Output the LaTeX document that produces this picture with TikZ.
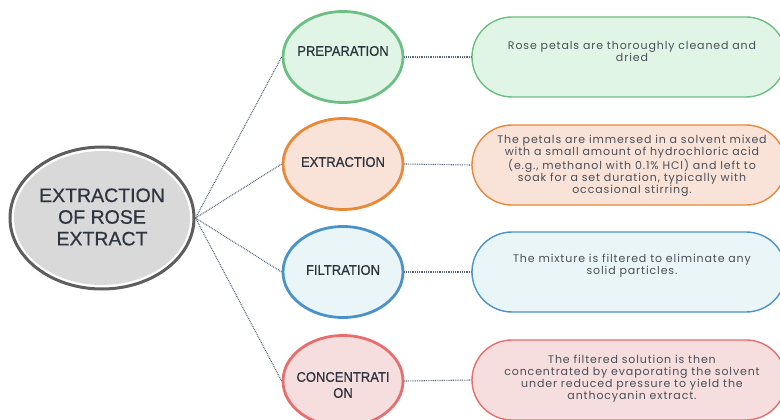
\documentclass[tikz,border=0pt]{standalone}
\usepackage{fontspec}
\setmainfont{Liberation Sans}
\newfontfamily\descfont[LetterSpace=8]{Poppins}
\newfontfamily\stepfont[FakeStretch=0.93,FakeBold=0.7]{Liberation Sans}
\newfontfamily\hubfont[FakeBold=0.6]{Liberation Sans}
\usetikzlibrary{shapes.geometric}

\definecolor{linkcol}{HTML}{56677A}
\definecolor{labelcol}{HTML}{2F3540}
\definecolor{desccol}{HTML}{4A4F58}
\definecolor{hubline}{HTML}{5E5E5E}
\definecolor{hubfill}{HTML}{D9D9D9}
\definecolor{grnline}{HTML}{6CBF82}
\definecolor{grnfill}{HTML}{E1F5E6}
\definecolor{orgline}{HTML}{E8893A}
\definecolor{orgfill}{HTML}{F9E2D7}
\definecolor{bluline}{HTML}{4A92C9}
\definecolor{blufill}{HTML}{EAF5F8}
\definecolor{redline}{HTML}{E86D6D}
\definecolor{redfill}{HTML}{F6DEDE}

\tikzset{
  stepellipse/.style={ellipse, minimum width=120pt, minimum height=91pt,
    inner sep=0pt, line width=2.8pt},
  stepbox/.style={rectangle, rounded corners=40pt, minimum width=314pt,
    minimum height=80pt, inner sep=0pt, line width=1.4pt},
  steplabel/.style={font=\stepfont\fontsize{14}{16}\selectfont,
    text=labelcol, align=center, inner sep=0pt},
  desctext/.style={font=\descfont\fontsize{11}{12}\selectfont,
    text=desccol, align=center, inner sep=0pt},
  link/.style={draw=linkcol, line width=1.1pt, dash pattern=on 0.9pt off 0.9pt}
}

\begin{document}
\begin{tikzpicture}[x=1pt, y=-1pt]
  \useasboundingbox (0,0) rectangle (780,420);

  % central hub: dark rim, thin white ring, grey fill
  \node[ellipse, minimum width=184pt, minimum height=142pt, inner sep=0pt,
        draw=hubline, line width=3pt, fill=white,
        path picture={\fill[hubfill] (path picture bounding box.center)
          ellipse [x radius=88pt, y radius=67pt];}]
        (hub) at (102,218) {};
  \node[font=\hubfont\fontsize{19.5}{21.7}\selectfont, text=labelcol,
        align=center, inner sep=0pt] (hubtext) at (102,217)
        {EXTRACTION\\OF ROSE\\EXTRACT};

  % step ellipses
  \node[stepellipse, draw=grnline, fill=grnfill] (prep) at (343,57) {};
  \node[stepellipse, draw=orgline, fill=orgfill] (extr) at (343,164) {};
  \node[stepellipse, draw=bluline, fill=blufill] (filt) at (343,272) {};
  \node[stepellipse, draw=redline, fill=redfill] (conc) at (343,381) {};

  \node[steplabel] (preptext) at (343,51) {PREPARATION};
  \node[steplabel] (extrtext) at (343,162) {EXTRACTION};
  \node[steplabel] (filttext) at (343,270) {FILTRATION};
  \node[steplabel] (conctext) at (343,385) {CONCENTRATI\\ON};

  % description boxes
  \node[stepbox, draw=grnline, fill=grnfill] (prepbox) at (629,57) {};
  \node[stepbox, draw=orgline, fill=orgfill] (extrbox) at (629,165) {};
  \node[stepbox, draw=bluline, fill=blufill] (filtbox) at (629,272) {};
  \node[stepbox, draw=redline, fill=redfill] (concbox) at (629,380) {};

  \node[desctext] (prepdesc) at (632,51)
    {Rose petals are thoroughly cleaned and\\dried};
  \node[desctext] (extrdesc) at (632,166)
    {The petals are immersed in a solvent mixed\\
     with a small amount of hydrochloric acid\\
     (e.g., methanol with 0.1\% HCl) and left to\\
     soak for a set duration, typically with\\
     occasional stirring.};
  \node[desctext] (filtdesc) at (632,266)
    {The mixture is filtered to eliminate any\\solid particles.};
  \node[desctext] (concdesc) at (632,379)
    {The filtered solution is then\\
     concentrated by evaporating the solvent\\
     under reduced pressure to yield the\\
     anthocyanin extract.};

  % connectors
  \foreach \s in {prep,extr,filt,conc}{
    \draw[link] (hub.east) -- (\s.west);
    \draw[link] (\s.east) -- (\s box.west);
  }
\end{tikzpicture}
\end{document}
